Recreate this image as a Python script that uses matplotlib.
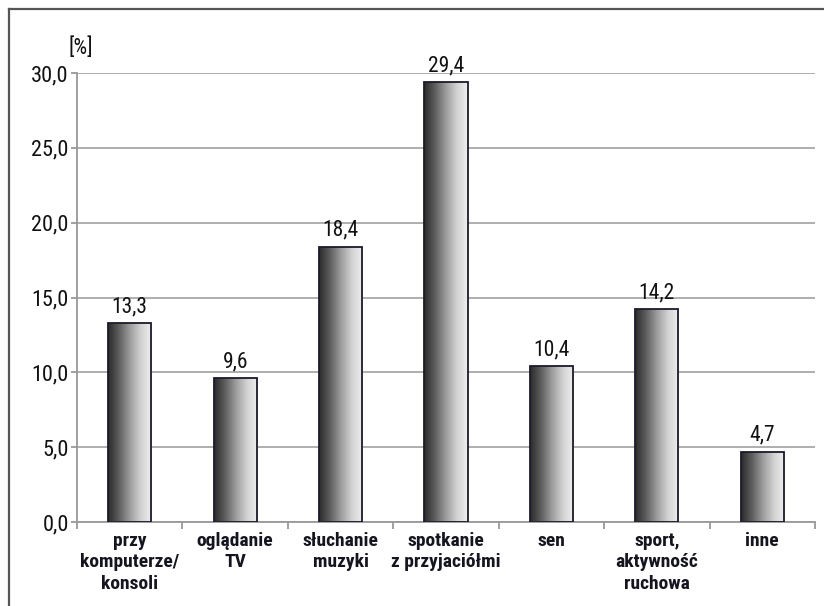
import numpy as np
import matplotlib
matplotlib.use("Agg")
import matplotlib.pyplot as plt
from matplotlib.colors import LinearSegmentedColormap
from matplotlib.lines import Line2D

categories = [
    "przy\nkomputerze/\nkonsoli",
    "oglądanie\nTV",
    "słuchanie\nmuzyki",
    "spotkanie\nz przyjaciółmi",
    "sen",
    "sport,\naktywność\nruchowa",
    "inne",
]
values = [13.3, 9.6, 18.4, 29.4, 10.4, 14.2, 4.7]
yticks = [0, 5, 10, 15, 20, 25, 30]

plt.rcParams["font.family"] = ["Roboto Condensed", "DejaVu Sans"]
plt.rcParams["font.stretch"] = "condensed"

fig = plt.figure(figsize=(8.24, 6.06), dpi=100)
ax = fig.add_axes([77 / 824, 1 - 522 / 606, (815 - 77) / 824, (522 - 73) / 606])

x = np.arange(len(values))
bars = ax.bar(x, values, width=0.41, facecolor="none", edgecolor="#1c1a2c",
              linewidth=1.3, zorder=3)

cmap = LinearSegmentedColormap.from_list(
    "cyl", ["#2a2a2a", "#5e5e5e", "#9c9c9c", "#d2d2d2", "#f0f0f0"])
grad = np.linspace(0, 1, 256).reshape(1, -1)
for b in bars:
    x0, y0 = b.get_x(), b.get_y()
    w, h = b.get_width(), b.get_height()
    im = ax.imshow(grad, cmap=cmap, aspect="auto",
                   extent=[x0, x0 + w, y0, y0 + h], zorder=2,
                   interpolation="bicubic")
    im.set_clip_path(b)

for xi, v in zip(x, values):
    ax.text(xi, v + 0.4, f"{v:.1f}".replace(".", ","), ha="center",
            va="bottom", fontsize=15.5, color="#111111")

ax.set_xlim(-0.5, len(values) - 0.5)
ax.set_ylim(0, 30)
ax.set_yticks(yticks)
ax.set_yticklabels([f"{t:.1f}".replace(".", ",") for t in yticks],
                   fontsize=16, color="#111111")
ax.yaxis.grid(True, color="#a8a8a8", linewidth=1.3, zorder=0)
ax.set_axisbelow(True)

ax.set_xticks(x)
ax.set_xticklabels(categories, fontsize=14, fontweight="bold",
                   color="#151520", linespacing=1.25)
ax.tick_params(axis="x", length=0, pad=7)
ax.set_xticks(np.arange(-0.5, len(values)), minor=True)
ax.tick_params(axis="x", which="minor", length=5, width=1.3, color="#999999")
ax.tick_params(axis="y", length=4, width=1.3, color="#999999", pad=2)

for s in ["top", "right"]:
    ax.spines[s].set_visible(False)
for s in ["left", "bottom"]:
    ax.spines[s].set_color("#999999")
    ax.spines[s].set_linewidth(1.3)

ax.text(81 / 824, 1 - 48 / 606, "[%]", transform=fig.transFigure, ha="center",
        va="center", fontsize=15.5, color="#111111")

# outer frame (top and left edges)
fig.add_artist(Line2D([9 / 824, 9 / 824], [0, 1 - 9 / 606],
                      transform=fig.transFigure, color="#555555", linewidth=1.6))
fig.add_artist(Line2D([9 / 824, 1], [1 - 9 / 606, 1 - 9 / 606],
                      transform=fig.transFigure, color="#555555", linewidth=1.6))

fig.savefig("out.png", dpi=100)
